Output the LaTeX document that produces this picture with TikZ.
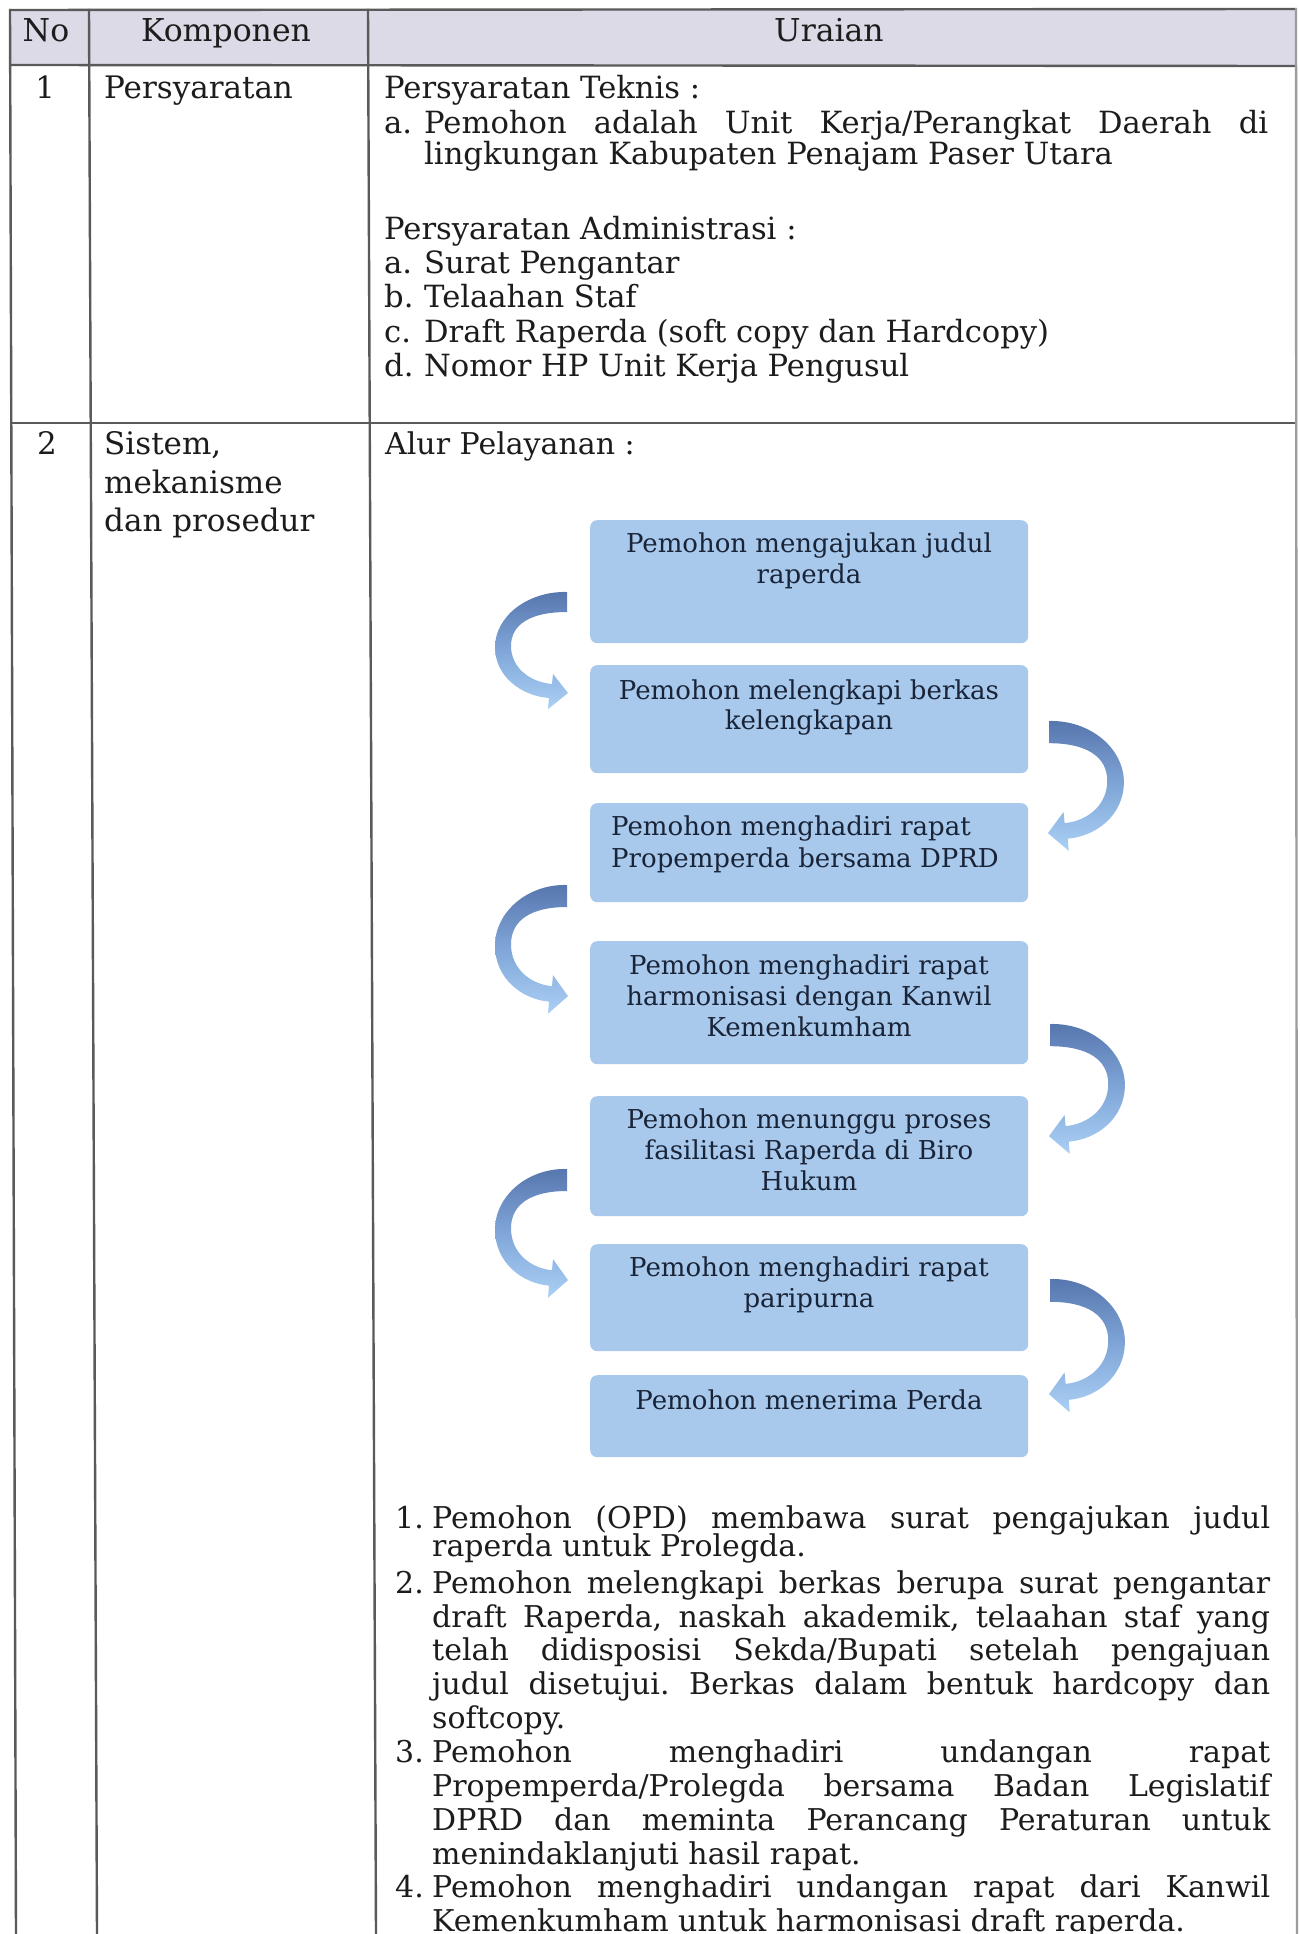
\documentclass[tikz,border=0pt]{standalone}
\usepackage{fontspec}
\setmainfont{DejaVu Serif}
\definecolor{headfill}{HTML}{DCDAE6}
\definecolor{tablegray}{HTML}{5A5A5A}
\definecolor{txt}{HTML}{1C1C1C}
\definecolor{boxfill}{HTML}{A8C9EC}
\definecolor{boxtxt}{HTML}{1A2438}
\definecolor{arrdark}{HTML}{5676AE}
\definecolor{arrmid}{HTML}{80A6D8}
\definecolor{arrlight}{HTML}{AAD0F5}
\newcommand\bodyfont{\fontsize{30}{33.5}\selectfont}
\newcommand\rowonefont{\fontsize{30.6}{33.5}\selectfont}
\newcommand\colfont{\fontsize{31}{37}\selectfont}
\newcommand\headfont{\fontsize{31.5}{36}\selectfont}
\newcommand\bxfont[1]{\fontsize{26}{#1}\selectfont}
\tikzset{
  curvearrow/.pic={
    \shade[top color=arrdark, bottom color=arrlight, middle color=arrmid]
      (0,0) .. controls (-40,-1) and (-72,25) .. (-72,55)
            .. controls (-72,85) and (-45,104) .. (-18,106)
      -- (-19,117) -- (1,101) -- (-14,82) -- (-15,92)
            .. controls (-38,90) and (-56,75) .. (-56,54)
            .. controls (-56,32) and (-36,20) .. (0,20)
      -- cycle;
  }
}
\frenchspacing
\begin{document}
\begin{tikzpicture}[x=1pt,y=-1pt,
  tline/.style={draw=tablegray, line width=2.4pt},
  ln/.style={anchor=base west, inner sep=0pt, font=\bodyfont, text=txt},
  lnone/.style={ln, font=\rowonefont},
  lncol/.style={ln, font=\colfont},
  hd/.style={anchor=base, inner sep=0pt, font=\headfont, text=txt},
  box/.style={fill=boxfill, rounded corners=7pt, inner sep=0pt, anchor=north west, minimum width=438pt},
  bt/.style={inner sep=0pt, text=boxtxt, align=center, anchor=north},
]
\useasboundingbox (0,0) rectangle (1300,1934);
\clip (0,0) rectangle (1300,1934);
\fill[white] (0,0) rectangle (1300,1934);

% header band
\fill[headfill] (10,10) rectangle (1296,65);

% table rules
\draw[tline] (10,10) -- (1296,9);
\draw[tline] (10,65) -- (1296,66);
\draw[tline] (11,423) -- (1296,423);
\draw[tline] (10,9) -- (16,1934);
\draw[tline] (89,9) -- (97,1934);
\draw[tline] (368,9) -- (376,1934);
\draw[tline, draw=tablegray!60] (1296,8) -- (1297,1934);

% header texts
\node[hd] (hno) at (46,42) {No};
\node[hd] (hkomp) at (226,42) {Komponen};
\node[hd] (hurai) at (829,42) {Uraian};

% row 1
\node[hd, font=\rowonefont] (n1) at (45,99) {1};
\node[lncol] (k1) at (104,99) {Persyaratan};
\node[lnone] (u1) at (384,99) {Persyaratan Teknis :};
\node[lnone] (u2l) at (384,134) {a.};
\node[lnone] (u2) at (424,134) {\makebox[844pt][s]{Pemohon adalah Unit Kerja/Perangkat Daerah di}};
\node[lnone] (u3) at (424,165) {lingkungan Kabupaten Penajam Paser Utara};
\node[lnone] (u4) at (384,240) {Persyaratan Administrasi :};
\node[lnone] (u5l) at (384,274) {a.};
\node[lnone] (u5) at (424,274) {Surat Pengantar};
\node[lnone] (u6l) at (384,308) {b.};
\node[lnone] (u6) at (424,308) {Telaahan Staf};
\node[lnone] (u7l) at (384,342) {c.};
\node[lnone] (u7) at (424,342) {Draft Raperda (soft copy dan Hardcopy)};
\node[lnone] (u8l) at (384,376) {d.};
\node[lnone] (u8) at (424,376) {Nomor HP Unit Kerja Pengusul};

% row 2
\node[hd, font=\colfont] (n2) at (47,454) {2};
\node[lncol] (k2a) at (104,454) {Sistem,};
\node[lncol] (k2b) at (104,493) {mekanisme};
\node[lncol] (k2c) at (104,531) {dan prosedur};
\node[ln] (alur) at (385,454) {Alur Pelayanan :};

% flow boxes
\node[box, minimum height=123pt] (b1) at (590,520) {};
\node[box, minimum height=108pt] (b2) at (590,665) {};
\node[box, minimum height=99pt]  (b3) at (590,803) {};
\node[box, minimum height=123pt] (b4) at (590,941) {};
\node[box, minimum height=120pt] (b5) at (590,1096) {};
\node[box, minimum height=107pt] (b6) at (590,1244) {};
\node[box, minimum height=82pt]  (b7) at (590,1375) {};

\node[bt, font=\bxfont{31}] (t1) at (809,533) {Pemohon mengajukan judul\\raperda};
\node[bt, font=\bxfont{30}] (t2) at (809,680) {Pemohon melengkapi berkas\\kelengkapan};
\node[bt, font=\bxfont{32}, align=left, anchor=north west] (t3) at (611,816) {Pemohon menghadiri rapat\\Propemperda bersama DPRD};
\node[bt, font=\bxfont{31}] (t4) at (809,955) {Pemohon menghadiri rapat\\harmonisasi dengan Kanwil\\Kemenkumham};
\node[bt, font=\bxfont{31}] (t5) at (809,1109) {Pemohon menunggu proses\\fasilitasi Raperda di Biro\\Hukum};
\node[bt, font=\bxfont{31}] (t6) at (809,1257) {Pemohon menghadiri rapat\\paripurna};
\node[bt, font=\bxfont{30}] (t7) at (809,1390) {Pemohon menerima Perda};

% curved arrows
\pic (la1) at (567,592) {curvearrow};
\pic[yscale=1.1] (la2) at (567,885) {curvearrow};
\pic[yscale=1.1] (la3) at (567,1169) {curvearrow};
\pic[xscale=-1.04, yscale=1.11] (ra1) at (1049,721) {curvearrow};
\pic[xscale=-1.04, yscale=1.11] (ra2) at (1050,1024) {curvearrow};
\pic[xscale=-1.04, yscale=1.14] (ra3) at (1050,1279) {curvearrow};

% numbered list
\node[ln] (p1l) at (395,1528) {1.};
\node[ln] (p1a) at (432,1528) {\makebox[838pt][s]{Pemohon (OPD) membawa surat pengajukan judul}};
\node[ln] (p1b) at (432,1556) {raperda untuk Prolegda.};
\node[ln] (p2l) at (395,1593.5) {2.};
\node[ln] (p2a) at (432,1593.5) {\makebox[838pt][s]{Pemohon melengkapi berkas berupa surat pengantar}};
\node[ln] (p2b) at (432,1627) {\makebox[838pt][s]{draft Raperda, naskah akademik, telaahan staf yang}};
\node[ln] (p2c) at (432,1660.5) {\makebox[838pt][s]{telah didisposisi Sekda/Bupati setelah pengajuan}};
\node[ln] (p2d) at (432,1694) {\makebox[838pt][s]{judul disetujui. Berkas dalam bentuk hardcopy dan}};
\node[ln] (p2e) at (432,1728) {softcopy.};
\node[ln] (p3l) at (395,1762) {3.};
\node[ln] (p3a) at (432,1762) {\makebox[838pt][s]{Pemohon menghadiri undangan rapat}};
\node[ln] (p3b) at (432,1796.5) {\makebox[838pt][s]{Propemperda/Prolegda bersama Badan Legislatif}};
\node[ln] (p3c) at (432,1830.5) {\makebox[838pt][s]{DPRD dan meminta Perancang Peraturan untuk}};
\node[ln] (p3d) at (432,1864) {menindaklanjuti hasil rapat.};
\node[ln] (p4l) at (395,1897) {4.};
\node[ln] (p4a) at (432,1897) {\makebox[838pt][s]{Pemohon menghadiri undangan rapat dari Kanwil}};
\node[ln] (p4b) at (432,1931) {Kemenkumham untuk harmonisasi draft raperda.};
\end{tikzpicture}
\end{document}
